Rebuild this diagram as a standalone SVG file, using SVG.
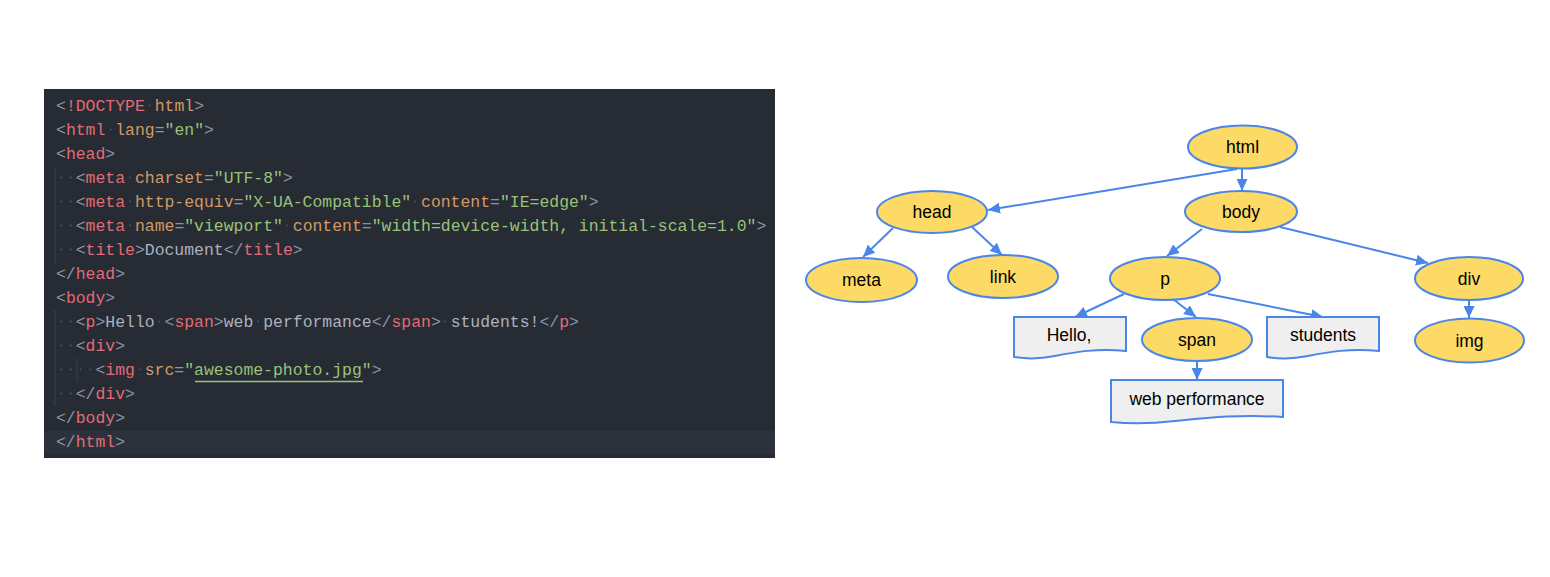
<svg xmlns="http://www.w3.org/2000/svg" width="1550" height="577" viewBox="0 0 1550 577">
<style>
.code{font-family:"Liberation Mono","DejaVu Sans Mono",monospace;font-size:16.45px;fill:#abb2bf}
.p{fill:#8a95a8}.t{fill:#e06c75}.a{fill:#d19a66}.s{fill:#98c379}
.ws{fill:#4b5263}
.guide{stroke:#3b4049;stroke-width:1}
.el{fill:#fdd966;stroke:#4a86e8;stroke-width:2}
.doc{fill:#efefef;stroke:#4a86e8;stroke-width:2}
.lbl{font-family:"Liberation Sans",Arial,sans-serif;font-size:17.5px;fill:#000;text-anchor:middle}
.con{stroke:#4a86e8;stroke-width:2;fill:none;marker-end:url(#arr)}
</style>
<defs>
<marker id="arr" markerUnits="userSpaceOnUse" markerWidth="13" markerHeight="11" refX="12" refY="5.5" orient="auto">
<path d="M0,0 L12,5.5 L0,11 Z" fill="#4a86e8"/>
</marker>
</defs>
<rect width="1550" height="577" fill="#ffffff"/>
<g id="code">
<rect x="44" y="89" width="731" height="369" fill="#272b34"/>
<rect x="44" y="431" width="731" height="23" fill="#2d313c"/>
<line class="guide" x1="55" y1="167" x2="55" y2="263"/>
<line class="guide" x1="55" y1="310" x2="55" y2="406"/>
<line class="guide" x1="77" y1="358" x2="77" y2="382"/>
<g class="ws">
<circle cx="149.5" cy="105.5" r="1"/>
<circle cx="110.7" cy="129.5" r="1"/>
<circle cx="60.9" cy="177.5" r="1"/><circle cx="70.8" cy="177.5" r="1"/><circle cx="129.8" cy="177.5" r="1"/>
<circle cx="60.9" cy="201.5" r="1"/><circle cx="70.8" cy="201.5" r="1"/><circle cx="129.8" cy="201.5" r="1"/><circle cx="415.2" cy="201.5" r="1"/>
<circle cx="60.9" cy="225.5" r="1"/><circle cx="70.8" cy="225.5" r="1"/><circle cx="129.8" cy="225.5" r="1"/><circle cx="287.2" cy="225.5" r="1"/><circle cx="582.5" cy="225.5" r="1"/>
<circle cx="60.9" cy="249.5" r="1"/><circle cx="70.8" cy="249.5" r="1"/>
<circle cx="60.9" cy="321.5" r="1"/><circle cx="70.8" cy="321.5" r="1"/><circle cx="159.4" cy="321.5" r="1"/><circle cx="257.8" cy="321.5" r="1"/><circle cx="444.7" cy="321.5" r="1"/>
<circle cx="60.9" cy="345.5" r="1"/><circle cx="70.8" cy="345.5" r="1"/>
<circle cx="60.9" cy="369.5" r="1"/><circle cx="70.8" cy="369.5" r="1"/><circle cx="80.6" cy="369.5" r="1"/><circle cx="90.4" cy="369.5" r="1"/><circle cx="139.6" cy="369.5" r="1"/>
<circle cx="60.9" cy="393.5" r="1"/><circle cx="70.8" cy="393.5" r="1"/>
</g>
<text class="code" xml:space="preserve">
<tspan x="56" y="111"><tspan class="p">&lt;</tspan><tspan class="t">!DOCTYPE</tspan> <tspan class="a">html</tspan><tspan class="p">&gt;</tspan></tspan>
<tspan x="56" y="135"><tspan class="p">&lt;</tspan><tspan class="t">html</tspan> <tspan class="a">lang</tspan><tspan class="p">=</tspan><tspan class="s">"en"</tspan><tspan class="p">&gt;</tspan></tspan>
<tspan x="56" y="159"><tspan class="p">&lt;</tspan><tspan class="t">head</tspan><tspan class="p">&gt;</tspan></tspan>
<tspan x="75.7" y="183"><tspan class="p">&lt;</tspan><tspan class="t">meta</tspan> <tspan class="a">charset</tspan><tspan class="p">=</tspan><tspan class="s">"UTF-8"</tspan><tspan class="p">&gt;</tspan></tspan>
<tspan x="75.7" y="207"><tspan class="p">&lt;</tspan><tspan class="t">meta</tspan> <tspan class="a">http-equiv</tspan><tspan class="p">=</tspan><tspan class="s">"X-UA-Compatible"</tspan> <tspan class="a">content</tspan><tspan class="p">=</tspan><tspan class="s">"IE=edge"</tspan><tspan class="p">&gt;</tspan></tspan>
<tspan x="75.7" y="231"><tspan class="p">&lt;</tspan><tspan class="t">meta</tspan> <tspan class="a">name</tspan><tspan class="p">=</tspan><tspan class="s">"viewport"</tspan> <tspan class="a">content</tspan><tspan class="p">=</tspan><tspan class="s">"width=device-width, initial-scale=1.0"</tspan><tspan class="p">&gt;</tspan></tspan>
<tspan x="75.7" y="255"><tspan class="p">&lt;</tspan><tspan class="t">title</tspan><tspan class="p">&gt;</tspan>Document<tspan class="p">&lt;/</tspan><tspan class="t">title</tspan><tspan class="p">&gt;</tspan></tspan>
<tspan x="56" y="279"><tspan class="p">&lt;/</tspan><tspan class="t">head</tspan><tspan class="p">&gt;</tspan></tspan>
<tspan x="56" y="303"><tspan class="p">&lt;</tspan><tspan class="t">body</tspan><tspan class="p">&gt;</tspan></tspan>
<tspan x="75.7" y="327"><tspan class="p">&lt;</tspan><tspan class="t">p</tspan><tspan class="p">&gt;</tspan>Hello <tspan class="p">&lt;</tspan><tspan class="t">span</tspan><tspan class="p">&gt;</tspan>web performance<tspan class="p">&lt;/</tspan><tspan class="t">span</tspan><tspan class="p">&gt;</tspan> students!<tspan class="p">&lt;/</tspan><tspan class="t">p</tspan><tspan class="p">&gt;</tspan></tspan>
<tspan x="75.7" y="351"><tspan class="p">&lt;</tspan><tspan class="t">div</tspan><tspan class="p">&gt;</tspan></tspan>
<tspan x="95.4" y="375"><tspan class="p">&lt;</tspan><tspan class="t">img</tspan> <tspan class="a">src</tspan><tspan class="p">=</tspan><tspan class="s">"awesome-photo.jpg"</tspan><tspan class="p">&gt;</tspan></tspan>
<tspan x="75.7" y="399"><tspan class="p">&lt;/</tspan><tspan class="t">div</tspan><tspan class="p">&gt;</tspan></tspan>
<tspan x="56" y="423"><tspan class="p">&lt;/</tspan><tspan class="t">body</tspan><tspan class="p">&gt;</tspan></tspan>
<tspan x="56" y="447"><tspan class="p">&lt;/</tspan><tspan class="t">html</tspan><tspan class="p">&gt;</tspan></tspan>
</text>
<line x1="195" y1="381.5" x2="363" y2="381.5" stroke="#98c379" stroke-width="1.5"/>
</g>
<g id="connectors">
<line class="con" x1="1237" y1="169" x2="988" y2="210"/>
<line class="con" x1="1242" y1="168" x2="1242" y2="191"/>
<line class="con" x1="893" y1="228" x2="863" y2="257"/>
<line class="con" x1="972" y1="227" x2="1002" y2="255"/>
<line class="con" x1="1202" y1="229" x2="1167" y2="256"/>
<line class="con" x1="1280" y1="227" x2="1428" y2="263"/>
<line class="con" x1="1469" y1="300" x2="1469" y2="318"/>
<line class="con" x1="1124" y1="294" x2="1075" y2="317"/>
<line class="con" x1="1173" y1="299" x2="1196" y2="317"/>
<line class="con" x1="1208" y1="294" x2="1323" y2="317"/>
<line class="con" x1="1197" y1="361" x2="1197" y2="380"/>
</g>
<g id="node-html"><ellipse class="el" cx="1242.5" cy="147" rx="54.5" ry="21.5"/><text class="lbl" x="1242.5" y="153">html</text></g>
<g id="node-head"><ellipse class="el" cx="932" cy="212" rx="55" ry="21"/><text class="lbl" x="932" y="218">head</text></g>
<g id="node-body"><ellipse class="el" cx="1241" cy="211.5" rx="56" ry="20.5"/><text class="lbl" x="1241" y="217.5">body</text></g>
<g id="node-meta"><ellipse class="el" cx="861.5" cy="280" rx="55.5" ry="22"/><text class="lbl" x="861.5" y="286">meta</text></g>
<g id="node-link"><ellipse class="el" cx="1003" cy="276.5" rx="55" ry="21.5"/><text class="lbl" x="1003" y="282.5">link</text></g>
<g id="node-p"><ellipse class="el" cx="1165" cy="278.5" rx="55" ry="21.5"/><text class="lbl" x="1165" y="284.5">p</text></g>
<g id="node-div"><ellipse class="el" cx="1469" cy="278.5" rx="54" ry="21.5"/><text class="lbl" x="1469" y="284.5">div</text></g>
<g id="node-img"><ellipse class="el" cx="1469.5" cy="340.5" rx="54.5" ry="22"/><text class="lbl" x="1469.5" y="346.5">img</text></g>
<g id="node-span"><ellipse class="el" cx="1197" cy="339.5" rx="55" ry="21.5"/><text class="lbl" x="1197" y="345.5">span</text></g>
<g id="node-hello"><path class="doc" d="M1014,317 H1126 V351 C1098,348 1075,352 1055,356 C1040,359 1026,359 1014,357 Z"/><text class="lbl" x="1069" y="341">Hello,</text></g>
<g id="node-students"><path class="doc" d="M1267,317 H1379 V351 C1351,348 1328,352 1308,356 C1293,359 1279,359 1267,357 Z"/><text class="lbl" x="1323" y="341">students</text></g>
<g id="node-webperf"><path class="doc" d="M1111,380 H1283 V417 C1240,414 1205,418 1175,421 C1150,424 1130,424 1111,422 Z"/><text class="lbl" x="1197" y="405">web performance</text></g>
</svg>
